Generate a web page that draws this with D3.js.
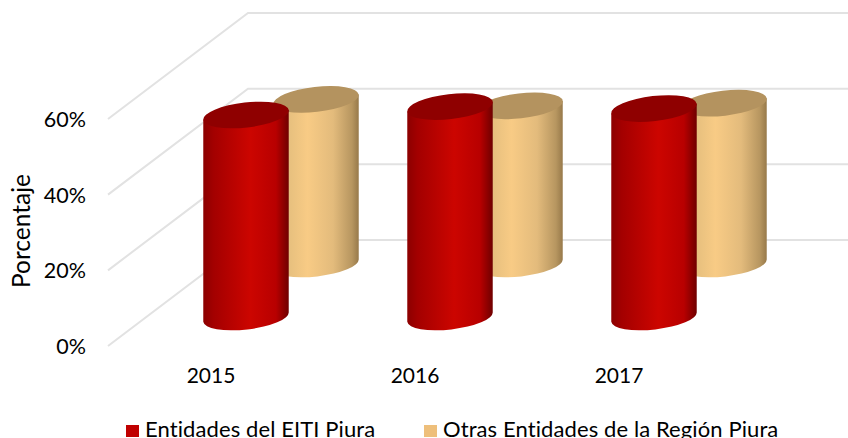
<!DOCTYPE html>
<html><head><meta charset="utf-8">
<script src="https://cdn.jsdelivr.net/npm/d3@7"></script>
<style>html,body{margin:0;padding:0;background:#fff;overflow:hidden}svg{display:block}text{font-family:Lato,"Open Sans",sans-serif;fill:#000}</style>
</head><body><svg id="c" width="848" height="438"></svg>
<script>
const categories = ["2015","2016","2017"];
const seriesNames = ["Entidades del EITI Piura","Otras Entidades de la Región Piura"];
const eiti = [53.4,55.6,55.1];
const otras = [43.5,41.8,42.5];
const ticks = [0,20,40,60];
const svg = d3.select("#c");
const y = d3.scaleLinear().domain([0,60]).range([346,119]);
const x = d3.scaleBand().domain(categories).range([108,720]);
const depthX = 140, depthY = -106;
const defs = svg.append("defs");
function grad(id,stops){const g=defs.append("linearGradient").attr("id",id);stops.forEach(s=>g.append("stop").attr("offset",s[0]).attr("stop-color",s[1]));}
grad("red",[[0,"#8c0000"],[.12,"#a30000"],[.55,"#cc0500"],[.85,"#b80000"],[1,"#6f0000"]]);
grad("tan",[[0,"#d8b678"],[.4,"#f8cb85"],[.7,"#e3bb7c"],[.92,"#b79660"],[1,"#97794a"]]);
// grid
ticks.forEach(t=>{
  svg.append("path").attr("fill","none").attr("stroke","#e2e2e2").attr("stroke-width",2)
    .attr("d",d3.line()([[108,y(t)],[108+depthX,y(t)+depthY],[848,y(t)+depthY]]));
  svg.append("text").attr("x",86).attr("y",y(t)+8).attr("text-anchor","end").attr("font-size",21.5).text(t+"%");
});
svg.append("text").attr("transform","translate(30,231) rotate(-90)").attr("text-anchor","middle").attr("font-size",24.5).text("Porcentaje");
const rx=43, ry=12.5, tilt=-6.5;
function cyl(cx,baseY,topY,fill,topFill){
  const a=tilt*Math.PI/180, dx=rx*Math.cos(a), dy=rx*Math.sin(a);
  const g=svg.append("g");
  g.append("path").attr("fill",`url(#${fill})`)
   .attr("d",`M${cx-dx},${topY-dy}L${cx+dx},${topY+dy}L${cx+dx},${baseY+dy}A${rx},${ry} ${tilt} 0 1 ${cx-dx},${baseY-dy}Z`);
  g.append("ellipse").attr("cx",cx).attr("cy",topY).attr("rx",rx).attr("ry",ry)
   .attr("transform",`rotate(${tilt} ${cx} ${topY})`).attr("fill",topFill);
}
const pos = i => x(categories[i])+x.bandwidth()/2;
const h = v => y(0)-y(v);
// back series first
otras.forEach((v,i)=>cyl(pos(i)+106,264,264-h(v),"tan","#b4935f"));
eiti.forEach((v,i)=>cyl(pos(i)+36,317,317-h(v),"red","#8f0000"));
categories.forEach((c,i)=>svg.append("text").attr("x",pos(i)+1).attr("y",383).attr("text-anchor","middle").attr("font-size",21).text(c));
[[126,"#c00000",145,seriesNames[0]],[424,"#eebf7b",443,seriesNames[1]]].forEach(d=>{
  svg.append("rect").attr("x",d[0]).attr("y",425).attr("width",13).attr("height",12).attr("fill",d[1]);
  svg.append("text").attr("x",d[2]).attr("y",437).attr("font-size",22).attr("letter-spacing",.1).text(d[3]);
});
</script></body></html>
